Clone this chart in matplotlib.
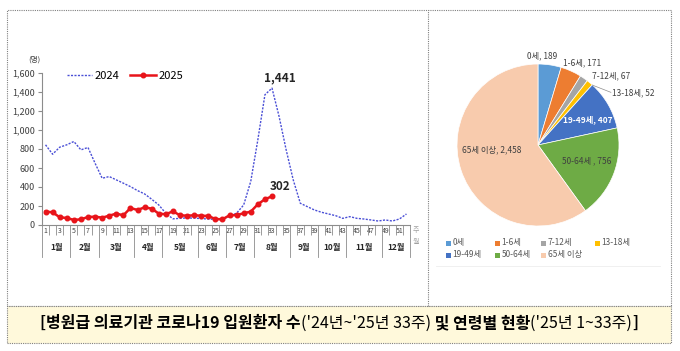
import numpy as np
import matplotlib
matplotlib.use("Agg")
import matplotlib.pyplot as plt
import matplotlib.transforms as mtransforms
from matplotlib.patches import Rectangle
from matplotlib.lines import Line2D

plt.rcParams['font.family'] = ['Noto Sans CJK KR', 'DejaVu Sans']

# weekly inpatients (명)
weeks = np.arange(1, 53)
y2024 = [844, 745, 819, 844, 879, 791, 816, 650, 492, 510, 475, 440, 404, 362,
         327, 271, 211, 123, 65, 70, 75, 72, 68, 62, 60, 65, 90, 125, 211, 460,
         897, 1371, 1441, 1143, 791, 475, 229, 193, 158, 134, 116, 98, 70, 88,
         70, 63, 53, 42, 53, 42, 63, 116]
y2025 = [141, 134, 81, 74, 53, 60, 84, 88, 77, 98, 120, 102, 179, 158, 186, 172,
         120, 113, 144, 102, 98, 102, 98, 95, 63, 60, 102, 105, 123, 141, 218,
         271, 302]
months = ['1월', '2월', '3월', '4월', '5월', '6월', '7월', '8월', '9월', '10월', '11월', '12월']
weeks_per_month = [4, 4, 5, 4, 5, 4, 4, 5, 4, 4, 5, 4]

# age groups ('25 weeks 1-33)
ages = ['0세', '1-6세', '7-12세', '13-18세', '19-49세', '50-64세', '65세 이상']
age_counts = [189, 171, 67, 52, 407, 756, 2458]
age_colors = ['#5B9BD5', '#ED7D31', '#A5A5A5', '#FFC000', '#4472C4', '#6EAB45', '#F8CBAD']

W, H = 680, 351
fig = plt.figure(figsize=(W / 100, H / 100), dpi=100)
fig.patch.set_facecolor('white')


def px(x, y, w=0, h=0):
    # pixel box (top-left origin) -> figure fraction
    return [x / W, 1 - (y + h) / H, w / W, h / H]


# ---- frames ----
b = px(7, 10, 664, 296)
fig.add_artist(Rectangle((b[0], b[1]), b[2], b[3], transform=fig.transFigure,
                         fill=False, ec='#808080', lw=0.8, ls=(0, (1, 1))))
fig.add_artist(Line2D([428 / W, 428 / W], [b[1], b[1] + b[3]], transform=fig.transFigure,
                      color='#808080', lw=0.8, ls=(0, (1, 1))))
c = px(7, 306, 664, 37)
fig.add_artist(Rectangle((c[0], c[1]), c[2], c[3], transform=fig.transFigure,
                         fc='#FFF9DB', ec='#808080', lw=0.8, ls=(0, (1, 1))))

# ---- line chart ----
ax = fig.add_axes(px(42, 73, 368, 152))
ax.plot(weeks, y2024, color='#4A4FD6', lw=1.0, ls=(0, (1.5, 1)), label='2024')
ax.plot(weeks[:len(y2025)], y2025, color='#E8141A', lw=1.8, marker='o', ms=3.3, label='2025')
ax.set_xlim(0.5, 52.5)
ax.set_ylim(0, 1600)
for s in ['top', 'right']:
    ax.spines[s].set_visible(False)
for s in ['left', 'bottom']:
    ax.spines[s].set_color('#8C8C8C')
    ax.spines[s].set_linewidth(0.8)

yt = np.arange(0, 1601, 200)
ax.set_yticks(yt)
ax.set_yticklabels([f'{v:,}' for v in yt], fontsize=6.5, color='#404040')
ax.tick_params(axis='y', length=3, color='#8C8C8C', pad=2)

ax.set_xticks(weeks)
ax.set_xticklabels([str(w) if w % 2 == 1 else '' for w in weeks], fontsize=5, color='#404040')
ax.set_xticks(np.arange(0.5, 53, 1), minor=True)
ax.tick_params(axis='x', which='major', length=0, pad=1.5)
ax.tick_params(axis='x', which='minor', length=7, color='#8C8C8C', width=0.6)

trans = mtransforms.blended_transform_factory(ax.transData, ax.transAxes)
bounds = 0.5 + np.concatenate([[0], np.cumsum(weeks_per_month)])
for xb in bounds:
    ax.plot([xb, xb], [-0.066, -0.21], transform=trans, color='#8C8C8C', lw=0.6, clip_on=False)
for i, m in enumerate(months):
    ax.text((bounds[i] + bounds[i + 1]) / 2, -0.145, m, transform=trans, ha='center', va='center',
            fontsize=6, fontweight='bold', color='#262626')
ax.text(53.3, -0.03, '주', transform=trans, fontsize=5, color='#A0A0A0', ha='center', va='center')
ax.text(53.3, -0.11, '월', transform=trans, fontsize=5, color='#A0A0A0', ha='center', va='center')
ax.text(-0.02, 1.085, '(명)', transform=ax.transAxes, fontsize=5.5, color='#404040', ha='center', va='center')

ax.legend(loc='center', bbox_to_anchor=(0.225, 0.98), ncol=2, frameon=False, fontsize=8,
          handlelength=2.3, handletextpad=0.2, columnspacing=1.0, borderaxespad=0)

i33 = 32
ax.annotate(f'{y2024[i33]:,}', (weeks[i33], y2024[i33]), xytext=(5.5, 2.5), textcoords='offset points',
            ha='center', va='bottom', fontsize=8.5, fontweight='bold', color='#262626')
ax.annotate(f'{y2025[-1]:,}', (weeks[len(y2025) - 1], y2025[-1]), xytext=(5.5, 2.5),
            textcoords='offset points', ha='center', va='bottom', fontsize=8.5, fontweight='bold',
            color='#262626')

# ---- pie chart ----
pax = fig.add_axes(px(457, 64, 162, 162))
pax.pie(age_counts, colors=age_colors, startangle=90, counterclock=False, radius=1,
        wedgeprops=dict(edgecolor='white', linewidth=0.5))
pax.set_xlim(-1, 1)
pax.set_ylim(-1, 1)
pax.set_aspect('equal')

label_pos = [(0.05, 1.10), (0.54, 1.01), (0.90, 0.85), (1.17, 0.65),
             (0.62, 0.31), (0.60, -0.20), (-0.57, -0.06)]
for i, (name, v) in enumerate(zip(ages, age_counts)):
    sep = ' , ' if name == '50-64세' else ', '
    white = name == '19-49세'
    pax.text(label_pos[i][0], label_pos[i][1], f'{name}{sep}{v:,}', ha='center', va='center',
             fontsize=6, color='white' if white else '#404040',
             fontweight='bold' if white else 'normal', clip_on=False)
pax.plot([0.67, 0.90], [0.74, 0.65], color='#8C8C8C', lw=0.5, clip_on=False)

# pie legend
leg_x = [446, 495, 541, 595]
leg_y = [243, 255]
for i, (name, col) in enumerate(zip(ages, age_colors)):
    r, k = divmod(i, 4)
    xx, yy = leg_x[k], leg_y[r]
    fig.add_artist(Rectangle((xx / W, 1 - (yy + 2.5) / H), 5 / W, 5 / H,
                             transform=fig.transFigure, fc=col, ec='none'))
    fig.text((xx + 6.5) / W, 1 - yy / H, name, fontsize=6, color='#595959', va='center', ha='left')
fig.add_artist(Line2D([436 / W, 660 / W], [1 - 266 / H] * 2, transform=fig.transFigure,
                      color='#EEEEEE', lw=0.6))

# ---- caption ----
parts = [("[병원급 의료기관 코로나19 입원환자 수", 'bold'), ("('24년~'25년 33주)", 'normal'),
         (" 및 연령별 현황", 'bold'), ("('25년 1~33주)", 'normal'), ("]", 'bold')]
renderer = fig.canvas.get_renderer()
texts = []
for s, wgt in parts:
    t = fig.text(0, 1 - 323 / H, s, fontsize=11.5, fontweight=wgt, color='black', va='center', ha='left')
    texts.append(t)
widths = [t.get_window_extent(renderer).width for t in texts]
x0 = 339 - sum(widths) / 2
for t, wd in zip(texts, widths):
    t.set_x(x0 / W)
    x0 += wd

fig.savefig('out.png', dpi=100, facecolor='white')
